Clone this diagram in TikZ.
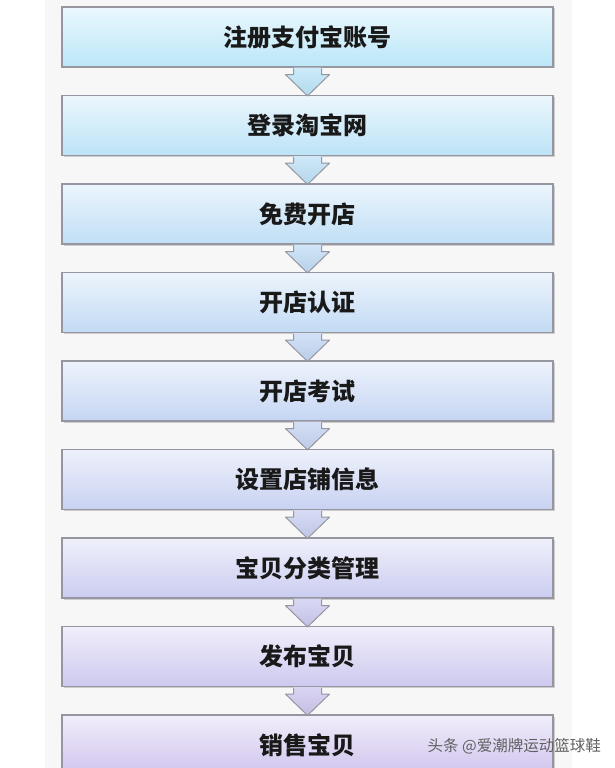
\documentclass[tikz,border=0pt]{standalone}
\usepackage{fontspec}
\newfontfamily\cjk{Noto Sans CJK SC}
\usetikzlibrary{calc,shadows}
\definecolor{cA}{RGB}{186,231,248}
\definecolor{cB}{RGB}{208,196,238}
\definecolor{boxborder}{RGB}{150,150,160}
\definecolor{bgstrip}{RGB}{247,247,248}
\tikzset{
  box/.style={draw=boxborder, line width=1.2pt, minimum width=491pt, minimum height=60pt,
    inner sep=0pt, font=\cjk\bfseries\fontsize{24}{28}\selectfont, text=black!90,
    drop shadow={opacity=0.35, shadow xshift=1.5pt, shadow yshift=-1.5pt}},
  arrowline/.style={draw=boxborder, line width=1pt, line join=round},
  wmark/.style={font=\cjk\fontsize{15.5}{18}\selectfont, text=black!62, inner sep=0pt}
}
\begin{document}
\begin{tikzpicture}[x=1pt,y=-1pt]
\useasboundingbox (0,0) rectangle (615,768);
\clip (0,0) rectangle (615,768);
\fill[white] (0,0) rectangle (615,768);
\fill[bgstrip] (45,0) rectangle (572,768);
\foreach \t [count=\i] in {注册支付宝账号,登录淘宝网,免费开店,开店认证,开店考试,设置店铺信息,宝贝分类管理,发布宝贝,销售宝贝} {
  \pgfmathtruncatemacro\p{(\i-1)*12.5}
  \colorlet{bc}{cB!\p!cA}
  \node[box, top color=bc!30!white, bottom color=bc] (b\i) at (307.5, {37+88.5*(\i-1)}) {\t};
}
\foreach \i in {1,...,8} {
  \pgfmathtruncatemacro\n{\i+1}
  \pgfmathtruncatemacro\p{(\i-1)*12.5+6}
  \colorlet{ac}{cB!\p!cA}
  \shade[top color=ac!75!white, bottom color=ac!95!black]
    ($(b\i.south)+(-14,0)$) -- ($(b\i.south)+(-14,7)$) -- ($(b\i.south)+(-22,7)$)
    -- ($(b\n.north)+(0,1)$) -- ($(b\i.south)+(22,7)$) -- ($(b\i.south)+(14,7)$)
    -- ($(b\i.south)+(14,0)$) -- cycle;
  \draw[arrowline]
    ($(b\i.south)+(-14,0.8)$) -- ($(b\i.south)+(-14,7)$) -- ($(b\i.south)+(-22,7)$)
    -- ($(b\n.north)+(0,1)$) -- ($(b\i.south)+(22,7)$) -- ($(b\i.south)+(14,7)$)
    -- ($(b\i.south)+(14,0.8)$);
}
\node[wmark, anchor=east] (wm) at (601,746) {头条 @爱潮牌运动篮球鞋};
\end{tikzpicture}
\end{document}
